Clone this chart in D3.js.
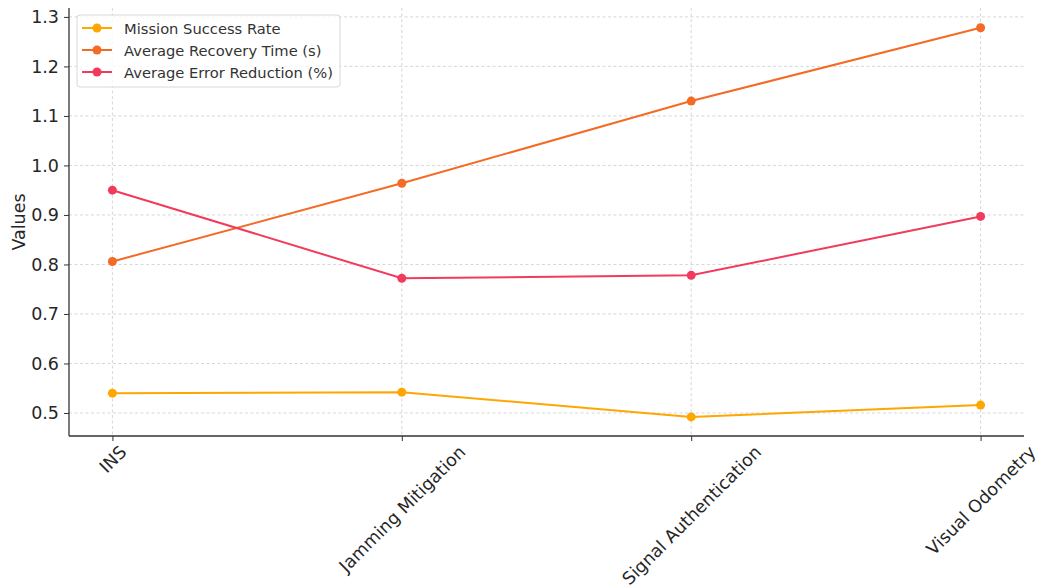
<!DOCTYPE html>
<html><head><meta charset="utf-8">
<script src="https://cdn.jsdelivr.net/npm/d3@7"></script>
<style>body{margin:0;background:#fff}svg{display:block}text{font-family:"DejaVu Sans",sans-serif}</style>
</head><body><svg id="c" width="1037" height="586"></svg>
<script>
const categories = ["INS", "Jamming Mitigation", "Signal Authentication", "Visual Odometry"];
const missionSuccess = [0.540, 0.542, 0.492, 0.516];
const recoveryTime = [0.806, 0.964, 1.130, 1.278];
const errorReduction = [0.950, 0.772, 0.778, 0.897];
const yTicks = [0.5, 0.6, 0.7, 0.8, 0.9, 1.0, 1.1, 1.2, 1.3];
const seriesNames = ["Mission Success Rate", "Average Recovery Time (s)", "Average Error Reduction (%)"];
const colors = ["#FFA600", "#F46B25", "#F23B5C"];
const series = [missionSuccess, recoveryTime, errorReduction];

const L = 69, R = 1024, T = 8, B = 436;
const FS = 17.5;
const svg = d3.select("#c");
const x = d3.scaleLinear().domain([-0.15, categories.length - 1 + 0.15]).range([L, R]);
const y = d3.scaleLinear().domain([0.4535, 1.318]).range([B, T]);

// grid
const g = svg.append("g");
g.selectAll("line.h").data(yTicks).join("line")
  .attr("x1", L).attr("x2", R).attr("y1", d => y(d)).attr("y2", d => y(d))
  .attr("stroke", "#cccccc").attr("stroke-width", 0.8).attr("stroke-dasharray", "3,2.5");
g.selectAll("line.v").data(categories).join("line")
  .attr("y1", T).attr("y2", B).attr("x1", (d, i) => x(i)).attr("x2", (d, i) => x(i))
  .attr("stroke", "#cccccc").attr("stroke-width", 0.8).attr("stroke-dasharray", "3,2.5");

// axes
const yAxis = d3.axisLeft(y).tickValues(yTicks).tickFormat(d3.format(".1f")).tickSize(5).tickPadding(5);
const ya = svg.append("g").attr("transform", `translate(${L},0)`).call(yAxis)
  .attr("font-size", FS).attr("font-family", "DejaVu Sans");
ya.select(".domain").attr("d", `M0,${T}V${B}`).attr("stroke", "#333").attr("stroke-width", 1.3);
ya.selectAll(".tick line").attr("stroke", "#333");
ya.selectAll(".tick text").attr("fill", "#262626");

const xAxis = d3.axisBottom(x).tickValues(d3.range(categories.length)).tickFormat(i => categories[i]).tickSize(5);
const xa = svg.append("g").attr("transform", `translate(0,${B})`).call(xAxis)
  .attr("font-size", FS).attr("font-family", "DejaVu Sans");
xa.select(".domain").attr("d", `M${L},0H${R}`).attr("stroke", "#333").attr("stroke-width", 1.3);
xa.selectAll(".tick line").attr("stroke", "#333");
xa.selectAll(".tick text").attr("fill", "#262626")
  .attr("text-anchor", "middle").attr("dy", null).attr("dominant-baseline", "central")
  .each(function() {
    const w = this.getComputedTextLength();
    const h = 14;
    const cy = 8 + (w + h) * Math.SQRT1_2 / 2;
    d3.select(this).attr("y", null).attr("transform", `translate(0,${cy}) rotate(-45)`);
  });

// y label
svg.append("text").attr("transform", `translate(25,${(T + B) / 2}) rotate(-90)`)
  .attr("text-anchor", "middle").attr("font-size", FS).attr("fill", "#262626").text("Values");

// lines
const line = d3.line().x((d, i) => x(i)).y(d => y(d));
series.forEach((s, k) => {
  svg.append("path").datum(s).attr("d", line).attr("fill", "none")
    .attr("stroke", colors[k]).attr("stroke-width", 2);
  svg.append("g").selectAll("circle").data(s).join("circle")
    .attr("cx", (d, i) => x(i)).attr("cy", d => y(d)).attr("r", 4.5).attr("fill", colors[k]);
});

// legend
const lg = svg.append("g").attr("transform", "translate(77,15)");
lg.append("rect").attr("width", 263).attr("height", 72).attr("rx", 3)
  .attr("fill", "#fff").attr("fill-opacity", 0.8).attr("stroke", "#d8d8d8");
seriesNames.forEach((n, k) => {
  const yy = 13 + k * 22;
  lg.append("line").attr("x1", 5).attr("x2", 35).attr("y1", yy).attr("y2", yy)
    .attr("stroke", colors[k]).attr("stroke-width", 2);
  lg.append("circle").attr("cx", 20).attr("cy", yy).attr("r", 4.5).attr("fill", colors[k]);
  lg.append("text").attr("x", 47).attr("y", yy).attr("dominant-baseline", "central")
    .attr("font-size", 14.7).attr("fill", "#333").text(n);
});
</script></body></html>
